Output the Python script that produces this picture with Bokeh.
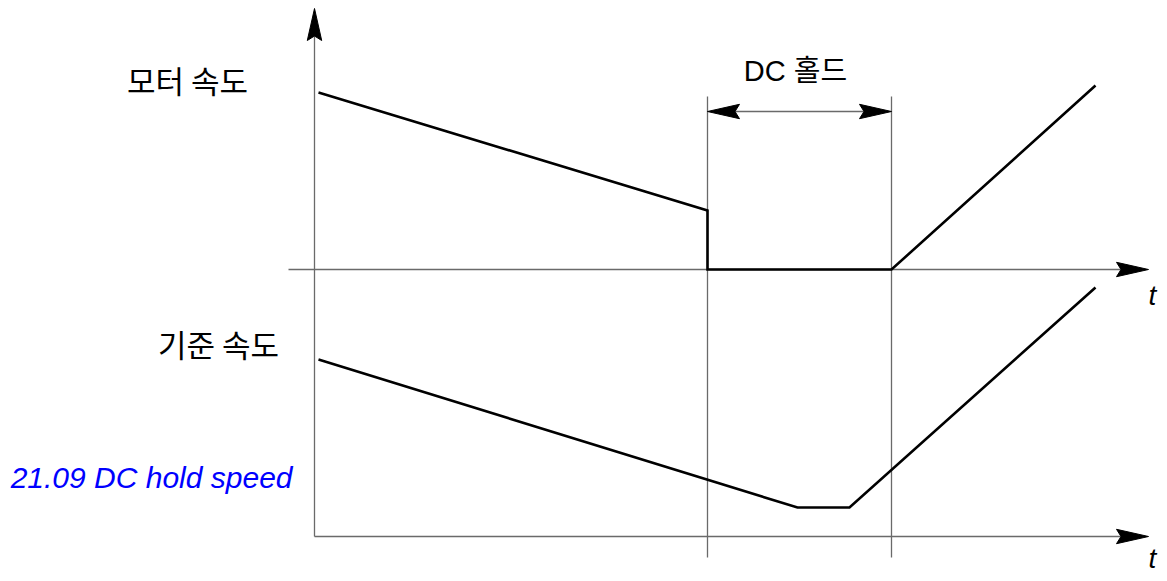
from bokeh.plotting import figure
from bokeh.models import Range1d
from bokeh.core.properties import value
from bokeh.embed import file_html
from bokeh.resources import INLINE

# ---- data (diagram units: time along t, speed above each baseline) ----
TIME_MOTOR = [0.4, 39.3, 39.3, 57.7, 78.1]
SPEED_MOTOR = [17.7, 5.9, 0.0, 0.0, 18.4]
TIME_REF = [0.4, 48.3, 53.5, 78.1]
SPEED_REF = [17.7, 2.9, 2.9, 24.9]
DC_HOLD_START = 39.3
DC_HOLD_END = 57.7
LABEL_MOTOR = "모터 속도"
LABEL_REF = "기준 속도"
LABEL_DC = "DC 홀드"
LABEL_PARAM = "21.09 DC hold speed"
LABEL_T = "t"

# ---- layout ----
LOWER_BASE = -26.7
T_END = 83.4
V_TOP = 26.1
AXIS_COLOR = "#6a6a6a"
KR_FONT = value("Noto Sans CJK KR")
LAT_FONT = value("Liberation Sans")
MIX_FONT = value("Liberation Sans, Noto Sans CJK KR")

p = figure(width=1159, height=573, output_backend="svg", toolbar_location=None,
           x_range=Range1d(-31.4, 84.5), y_range=Range1d(-30.4, 26.9),
           min_border=0, outline_line_color=None)
p.axis.visible = False
p.grid.visible = False
p.background_fill_color = "white"
p.border_fill_color = "white"

AH_LEN, AH_HALF, AH_NOTCH = 3.2, 0.72, 0.45


def head(tx, ty, dx, dy):
    # arrowhead polygon with tip at (tx, ty), pointing along (dx, dy) unit direction
    px, py = -dy, dx
    bx, by = tx - dx * AH_LEN, ty - dy * AH_LEN
    nx, ny = tx - dx * (AH_LEN - AH_NOTCH), ty - dy * (AH_LEN - AH_NOTCH)
    return ([tx, bx + px * AH_HALF, nx, bx - px * AH_HALF],
            [ty, by + py * AH_HALF, ny, by - py * AH_HALF])


# axes lines
p.line([0, 0], [LOWER_BASE, V_TOP - 2.5], line_color=AXIS_COLOR, line_width=1.3)
p.line([-2.6, T_END - 2.5], [0, 0], line_color=AXIS_COLOR, line_width=1.3)
p.line([0, T_END - 2.5], [LOWER_BASE, LOWER_BASE], line_color=AXIS_COLOR, line_width=1.3)

# DC hold markers
for tx in (DC_HOLD_START, DC_HOLD_END):
    p.line([tx, tx], [17.3, -28.8], line_color=AXIS_COLOR, line_width=1.3)
p.line([DC_HOLD_START + 2, DC_HOLD_END - 2], [15.8, 15.8], line_color=AXIS_COLOR, line_width=1.3)

heads = [head(0, V_TOP, 0, 1), head(T_END, 0, 1, 0), head(T_END, LOWER_BASE, 1, 0),
         head(DC_HOLD_START, 15.8, -1, 0), head(DC_HOLD_END, 15.8, 1, 0)]
p.patches([h[0] for h in heads], [h[1] for h in heads], fill_color="black",
          line_color="black", line_width=1)

# speed curves
p.line(TIME_MOTOR, SPEED_MOTOR, line_color="black", line_width=2.6, line_join="miter")
p.line(TIME_REF, [v + LOWER_BASE for v in SPEED_REF], line_color="black", line_width=2.6,
       line_join="miter")

# texts
p.text(x=[-12.7], y=[19.0], text=[LABEL_MOTOR], text_font=KR_FONT, text_font_size="31px",
       text_align="center", text_baseline="middle", text_color="black")
p.text(x=[-9.6], y=[-7.4], text=[LABEL_REF], text_font=KR_FONT, text_font_size="31px",
       text_align="center", text_baseline="middle", text_color="black")
p.text(x=[48.1], y=[19.9], text=[LABEL_DC], text_font=MIX_FONT, text_font_size="29px",
       text_align="center", text_baseline="middle", text_color="black")
p.text(x=[-2.2], y=[-20.8], text=[LABEL_PARAM], text_font=LAT_FONT, text_font_size="30px",
       text_font_style="italic", text_align="right", text_baseline="middle", text_color="#0000ff")
p.text(x=[83.8, 83.8], y=[-2.6, -28.9], text=[LABEL_T, LABEL_T], text_font=LAT_FONT,
       text_font_size="28px", text_font_style="italic", text_align="center",
       text_baseline="middle", text_color="black")

open("out.html", "w").write(file_html(p, INLINE))
